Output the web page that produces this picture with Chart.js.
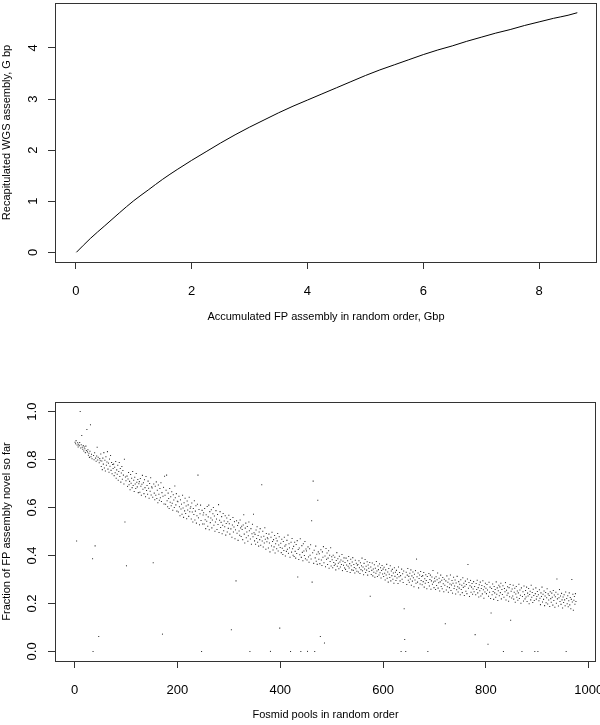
<!DOCTYPE html>
<html>
<head>
<meta charset="utf-8">
<script src="https://cdn.jsdelivr.net/npm/chart.js@4"></script>
<style>
  body { margin: 0; background: #fff; }
  canvas { position: absolute; left: 0; }
  #lineChart { top: 0; }
  #scatterChart { top: 362px; }
</style>
</head>
<body>
<canvas id="lineChart" width="600" height="362"></canvas>
<canvas id="scatterChart" width="600" height="363"></canvas>
<script>
// Pannello superiore: assemblaggio FP accumulato vs WGS ricapitolato (Gbp)
const accumFP = [0.01, 0.25, 0.5, 0.75, 1.0, 1.25, 1.5, 1.75, 2.0, 2.25, 2.5, 2.75, 3.0, 3.25, 3.5, 3.75, 4.0, 4.25,
                 4.5, 4.75, 5.0, 5.25, 5.5, 5.75, 6.0, 6.25, 6.5, 6.75, 7.0, 7.25, 7.5, 7.75, 8.0, 8.25, 8.5, 8.66];
const recapWGS = [0.00, 0.27, 0.52, 0.77, 1.01, 1.22, 1.43, 1.62, 1.80, 1.97, 2.14, 2.30, 2.45, 2.59, 2.73, 2.86, 2.98, 3.10,
                  3.22, 3.34, 3.46, 3.57, 3.67, 3.77, 3.87, 3.96, 4.04, 4.13, 4.21, 4.29, 4.36, 4.44, 4.51, 4.58, 4.64, 4.69];
const topXTicks = [0, 2, 4, 6, 8];
const topYTicks = [0, 1, 2, 3, 4];

// Pannello inferiore: frazione nuova per ogni pool (pool 1..975, in ordine)
const novelFraction = [
  .872,.866,.879,.460,.861,.870,.852,.864,.858,.871,1.000,.848,.862,.900,.851,.843,.858,.836,.852,.845,.829,.856,.838,.925,.832,
  .841,.818,.826,.809,.835,.945,.812,.822,.803,.386,.000,.817,.799,.828,.440,.806,.793,.815,.851,.798,.810,.062,.787,.804,.795,
  .823,.771,.794,.758,.806,.781,.829,.765,.797,.752,.812,.776,.790,.833,.760,.785,.747,.802,.772,.817,.755,.788,.741,.779,.763,
  .781,.733,.768,.745,.792,.722,.757,.739,.776,.714,.750,.788,.729,.763,.706,.744,.771,.718,.754,.735,.698,.801,.540,.727,.712,
  .357,.731,.688,.719,.746,.695,.709,.674,.738,.701,.722,.683,.750,.692,.714,.667,.726,.698,.679,.742,.705,.686,.717,.662,.699,
  .708,.664,.721,.689,.651,.697,.734,.676,.703,.658,.716,.683,.645,.729,.671,.692,.655,.710,.680,.639,.700,.668,.724,.652,.686,
  .681,.643,.370,.698,.660,.632,.689,.651,.707,.638,.672,.620,.694,.655,.630,.679,.641,.703,.625,.662,.072,.647,.684,.615,.730,
  .651,.614,.672,.735,.628,.603,.660,.638,.596,.679,.622,.645,.607,.666,.618,.589,.653,.631,.600,.690,.641,.611,.658,.585,.626,
  .624,.581,.647,.603,.566,.632,.594,.614,.572,.651,.598,.559,.620,.586,.639,.575,.606,.553,.627,.590,.611,.563,.643,.582,.597,
  .603,.552,.619,.581,.540,.596,.571,.628,.548,.585,.607,.535,.566,.614,.735,.557,.592,.528,.574,.610,.546,.000,.588,.531,.569,
  .578,.531,.596,.549,.512,.570,.543,.604,.522,.561,.610,.507,.583,.537,.556,.591,.515,.548,.574,.600,.526,.565,.501,.540,.587,
  .552,.508,.571,.529,.612,.496,.547,.583,.517,.538,.562,.491,.526,.575,.503,.544,.520,.566,.485,.533,.556,.498,.541,.513,.568,
  .532,.489,.550,.511,.090,.476,.527,.558,.498,.519,.541,.470,.507,.294,.545,.493,.525,.463,.536,.502,.484,.548,.515,.479,.522,
  .508,.466,.527,.570,.489,.452,.514,.535,.474,.498,.521,.459,.482,.540,.503,.000,.469,.512,.447,.491,.530,.478,.572,.495,.461,
  .488,.447,.506,.471,.520,.455,.483,.439,.498,.466,.512,.443,.477,.695,.460,.501,.435,.480,.452,.516,.468,.426,.492,.457,.474,
  .470,.431,.489,.452,.415,.000,.476,.440,.497,.458,.423,.466,.436,.483,.410,.449,.472,.428,.461,.492,.419,.444,.478,.097,.433,
  .451,.412,.468,.430,.404,.458,.421,.476,.439,.398,.445,.417,.463,.426,.485,.409,.449,.432,.393,.000,.455,.414,.471,.428,.401,
  .438,.396,.455,.417,.389,.446,.408,.462,.310,.425,.383,.431,.403,.470,.000,.392,.441,.413,.378,.449,.419,.400,.458,.386,.427,
  .419,.381,.000,.436,.394,.372,.428,.401,.445,.385,.545,.289,.411,.710,.367,.422,.000,.390,.439,.376,.405,.363,.630,.415,.384,
  .407,.366,.062,.424,.381,.358,.415,.393,.437,.370,.035,.398,.353,.429,.384,.410,.362,.389,.420,.347,.401,.375,.432,.356,.395,
  .382,.349,.401,.371,.358,.393,.364,.340,.379,.412,.355,.386,.368,.345,.397,.373,.352,.381,.362,.404,.337,.376,.359,.390,.348,
  .371,.342,.389,.360,.333,.378,.355,.396,.348,.366,.329,.384,.357,.340,.373,.391,.338,.362,.350,.327,.380,.345,.368,.334,.359,
  .362,.331,.378,.349,.325,.370,.341,.357,.389,.336,.352,.320,.367,.344,.383,.329,.355,.339,.374,.318,.360,.347,.333,.371,.230,
  .352,.321,.338,.369,.315,.344,.330,.361,.309,.347,.326,.375,.335,.312,.356,.341,.319,.365,.328,.349,.306,.337,.358,.323,.343,
  .312,.351,.326,.298,.340,.319,.363,.305,.331,.289,.346,.322,.308,.357,.294,.335,.316,.342,.301,.327,.284,.349,.313,.330,.296,
  .338,.306,.321,.283,.352,.311,.329,.294,.316,.000,.343,.301,.324,.287,.335,.178,.050,.309,.000,.330,.279,.318,.346,.297,.313,
  .288,.326,.302,.340,.276,.315,.293,.331,.307,.270,.322,.298,.337,.284,.385,.311,.289,.327,.265,.304,.319,.281,.333,.296,.312,
  .278,.316,.291,.329,.268,.303,.284,.320,.296,.261,.312,.000,.287,.325,.273,.300,.318,.259,.294,.310,.280,.337,.289,.266,.305,
  .293,.258,.311,.275,.299,.327,.264,.286,.305,.252,.290,.318,.271,.297,.261,.308,.282,.249,.301,.276,.115,.294,.256,.315,.270,
  .288,.247,.302,.266,.281,.319,.254,.277,.296,.243,.284,.309,.262,.273,.298,.239,.285,.257,.313,.270,.248,.291,.264,.280,.236,
  .299,.258,.276,.245,.307,.267,.284,.233,.272,.293,.251,.279,.241,.302,.362,.263,.287,.229,.274,.296,.247,.268,.283,.238,.260,
  .291,.249,.271,.070,.236,.283,.258,.297,.244,.266,.227,.278,.253,.289,.231,.262,.275,.240,.295,.257,.222,.270,.248,.284,.263,
  .241,.279,.256,.030,.230,.288,.247,.268,.221,.160,.262,.236,.281,.250,.217,.271,.244,.258,.226,.290,.238,.265,.212,.253,.276,
  .232,.269,.245,.284,.219,.258,.237,.274,.000,.226,.262,.249,.287,.214,.255,.234,.270,.243,.209,.266,.228,.279,.130,.251,.223,
  .260,.231,.276,.218,.247,.263,.205,.239,.271,.226,.252,.213,.244,.280,.221,.256,.234,.201,.265,.000,.229,.249,.210,.273,.237,
  .219,.254,.227,.268,.208,.243,.231,.262,.199,.237,.251,.215,.276,.226,.246,.204,.259,.233,.212,.000,.241,.265,.218,.229,.250,
  .000,.236,.211,.257,.222,.195,.244,.229,.268,.206,.238,.217,.252,.191,.231,.246,.203,.224,.261,.198,.240,.214,.233,.187,.249,
  .220,.205,.243,.226,.193,.254,.212,.235,.184,.228,.247,.201,.302,.219,.238,.189,.224,.258,.208,.231,.196,.242,.215,.181,.227,
  .204,.236,.215,.190,.248,.000,.221,.199,.232,.186,.211,.244,.194,.225,.178,.217,.300,.206,.238,.172,.213,.229,.197,.241,.208
];
const bottomXTicks = [0, 200, 400, 600, 800, 1000];
const bottomYTicks = [0, 0.2, 0.4, 0.6, 0.8, 1.0];

const FONT = 'Liberation Sans, Arial, sans-serif';

// box attorno all'area del grafico, come box() in R
const boxPlugin = {
  id: 'box',
  afterDraw(chart) {
    const a = chart.chartArea;
    const ctx = chart.ctx;
    ctx.save();
    ctx.strokeStyle = '#333';
    ctx.lineWidth = 1;
    ctx.strokeRect(a.left + 0.5, a.top + 0.5, a.right - a.left - 1, a.bottom - a.top);
    ctx.restore();
  }
};

function xAxis(min, max, ticks, title, fmt, titleBottom, height) {
  return {
    type: 'linear', min: min, max: max,
    afterBuildTicks: s => { s.ticks = ticks.map(v => ({ value: v })); },
    afterFit: s => { s.height = height; s.paddingLeft = 0; s.paddingRight = 0; },
    grid: { drawOnChartArea: false, tickLength: 7, tickColor: '#333' },
    border: { display: false },
    ticks: { color: '#000', font: { family: FONT, size: 13 }, padding: 15, maxRotation: 0, callback: fmt },
    title: { display: true, text: title, color: '#000', font: { family: FONT, size: 11 }, padding: { top: 0, bottom: titleBottom } }
  };
}

function yAxis(min, max, ticks, title, fmt, pad) {
  return {
    type: 'linear', min: min, max: max,
    afterBuildTicks: s => { s.ticks = ticks.map(v => ({ value: v })); },
    afterFit: s => { s.width = 55; s.paddingTop = 0; s.paddingBottom = 0; },
    grid: { drawOnChartArea: false, tickLength: 7, tickColor: '#333' },
    border: { display: false },
    ticks: { color: '#000', font: { family: FONT, size: 13 }, padding: pad, minRotation: 90, maxRotation: 90, crossAlign: 'center', callback: fmt },
    title: { display: true, text: title, color: '#000', font: { family: FONT, size: 11 }, padding: 0 }
  };
}

const common = {
  responsive: false,
  animation: false,
  devicePixelRatio: 1,
  plugins: { legend: { display: false }, tooltip: { enabled: false } }
};

// Grafico in alto: linea
new Chart(document.getElementById('lineChart'), {
  type: 'scatter',
  data: {
    datasets: [{
      data: accumFP.map((x, i) => ({ x: x, y: recapWGS[i] })),
      showLine: true,
      borderColor: '#000',
      borderWidth: 1,
      pointRadius: 0,
      cubicInterpolationMode: 'monotone'
    }]
  },
  options: Object.assign({}, common, {
    layout: { padding: { left: 0, right: 3, top: 3, bottom: 0 } },
    scales: {
      x: xAxis(-0.36, 9.0, topXTicks, 'Accumulated FP assembly in random order, Gbp', v => String(v), 38, 100),
      y: yAxis(-0.19, 4.88, topYTicks, 'Recapitulated WGS assembly, G bp', v => String(v), 11)
    }
  }),
  plugins: [boxPlugin]
});

// Grafico in basso: punti
new Chart(document.getElementById('scatterChart'), {
  type: 'scatter',
  data: {
    datasets: [{
      data: novelFraction.map((y, i) => ({ x: i + 1, y: y })),
      pointStyle: 'rect',
      pointRadius: 0.75,
      pointBorderWidth: 0,
      backgroundColor: '#333'
    }]
  },
  options: Object.assign({}, common, {
    layout: { padding: { left: 0, right: 3, top: 40, bottom: 0 } },
    scales: {
      x: xAxis(-38, 1014, bottomXTicks, 'Fosmid pools in random order', v => String(v), 3, 64),
      y: yAxis(-0.04, 1.04, bottomYTicks, 'Fraction of FP assembly novel so far', v => v.toFixed(1), 7)
    }
  }),
  plugins: [boxPlugin]
});
</script>
</body>
</html>
